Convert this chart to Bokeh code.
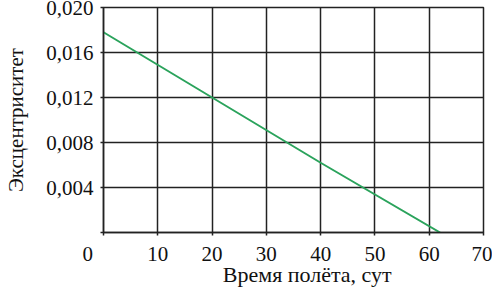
from bokeh.plotting import figure
from bokeh.models import Range1d, FixedTicker
from bokeh.embed import file_html
from bokeh.resources import INLINE

# data
time_days = [0, 20, 40, 62]
eccentricity = [0.0178, 0.0120, 0.0062, 0.0]
x_ticks = [0, 10, 20, 30, 40, 50, 60, 70]
y_ticks = [0.0, 0.004, 0.008, 0.012, 0.016, 0.020]
y_tick_labels = {0.0: "", 0.004: "0,004", 0.008: "0,008", 0.012: "0,012", 0.016: "0,016", 0.020: "0,020"}
NB = "\u00a0"
x_tick_labels = {0: "0" + NB * 6, 10: "10", 20: "20", 30: "30", 40: "40", 50: "50", 60: "60", 70: "70"}

FONT = "Liberation Serif"
GRID = "#222222"

p = figure(width=492, height=289, output_backend="svg", toolbar_location=None,
           x_range=Range1d(0, 70), y_range=Range1d(0, 0.020),
           min_border_left=103, min_border_right=9, min_border_top=7, min_border_bottom=53)
p.outline_line_color = GRID
p.outline_line_width = 1.5

p.xaxis.ticker = FixedTicker(ticks=x_ticks)
p.yaxis.ticker = FixedTicker(ticks=y_ticks)
p.xaxis.major_label_overrides = x_tick_labels
p.yaxis.major_label_overrides = y_tick_labels
for ax in (p.xaxis[0], p.yaxis[0]):
    ax.axis_line_color = GRID
    ax.axis_line_width = 1.5
    ax.major_tick_line_color = GRID
    ax.major_tick_line_width = 1.5
    ax.major_tick_out = 3
    ax.major_tick_in = 0
    ax.minor_tick_line_color = None
    ax.major_label_text_font = FONT
    ax.major_label_text_font_size = "21px"
    ax.major_label_text_color = "#111111"
    ax.axis_label_text_font = FONT
    ax.axis_label_text_font_size = "21px"
    ax.axis_label_text_font_style = "normal"
    ax.axis_label_text_color = "#111111"
p.xaxis.axis_label_text_font_size = "22px"
p.xaxis.major_label_standoff = 6
p.yaxis.major_label_standoff = 7
p.xaxis.axis_label = NB * 5 + "Время полёта, сут"
p.yaxis.axis_label = "Эксцентриситет"
p.xaxis.axis_label_standoff = -7
p.yaxis.axis_label_standoff = 15

p.xgrid.grid_line_color = GRID
p.ygrid.grid_line_color = GRID
p.xgrid.grid_line_width = 1.5
p.ygrid.grid_line_width = 1.5

p.line(time_days, eccentricity, line_color="#2ba35c", line_width=2)

open("out.html", "w").write(file_html(p, INLINE))
